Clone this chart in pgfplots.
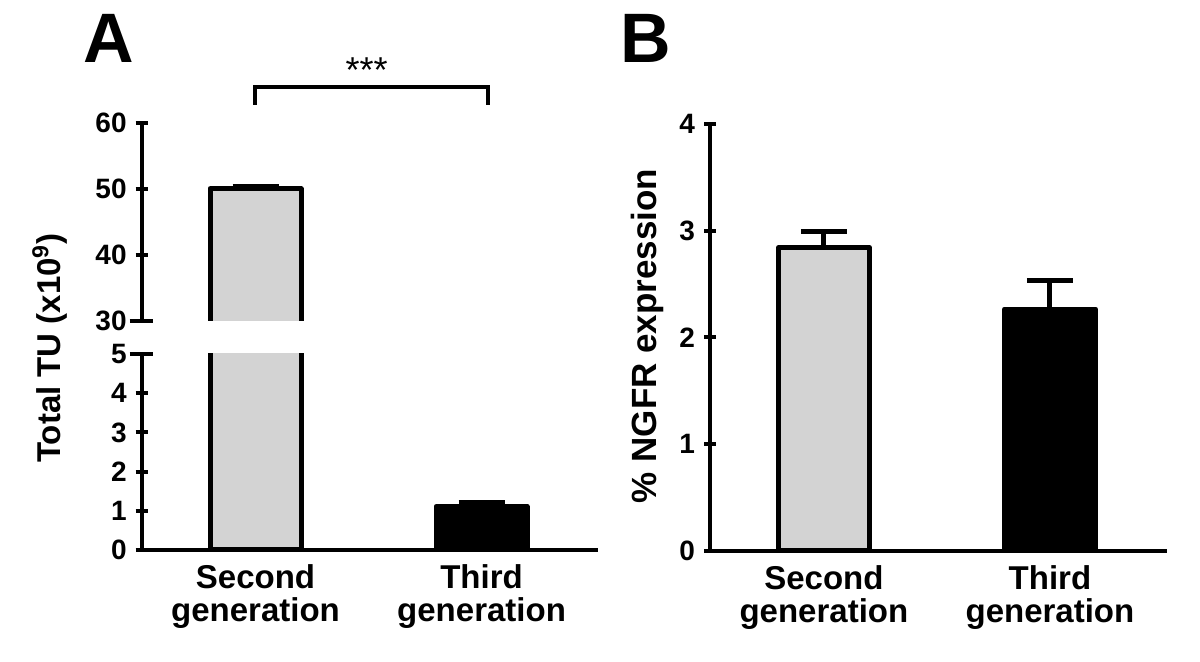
\documentclass[border=0pt]{standalone}
\usepackage{fontspec}
\setmainfont{Liberation Sans}
\usepackage{pgfplots}
\pgfplotsset{compat=1.18}
\definecolor{barGray}{RGB}{211,211,211}

\pgfplotsset{
  panel/.style={
    scale only axis,
    ybar, bar width=45.5pt, bar shift=0pt,
    xmin=-0.5035, xmax=1.5155,
    every tick/.style={line width=2pt, black},
    major tick length=6pt,
    tick align=outside,
    major x tick style={draw=none},
    yticklabel style={font=\bfseries\fontsize{14}{14}\selectfont, xshift=-1pt},
    xticklabel style={font=\bfseries\fontsize{16.5}{16.5}\selectfont, align=center, yshift=-1pt},
    /pgf/number format/assume math mode=true,
    error bars/y dir=plus, error bars/y explicit,
    error bars/error bar style={line width=2.5pt, black},
    error bars/error mark options={rotate=90, mark size=11.5pt, line width=2.5pt, black},
  },
  graybar/.style={fill=barGray, draw=black, line width=2.5pt, line join=round},
  blackbar/.style={fill=black, draw=black, line width=2.5pt, line join=round},
}

\begin{document}
\begin{tikzpicture}
\path[use as bounding box] (0,0) rectangle (600pt,331pt);

% Panel A, lower segment (0-5)
\begin{axis}[panel, at={(70.85pt,56pt)}, anchor=south west,
  width=228.2pt, height=98pt, ymin=0, ymax=5,
  axis x line=bottom, axis y line=left,
  axis line style={-, line width=2pt},
  ytick={0,1,2,3,4,5},
  xtick={0,1}, xticklabels={{Second\\generation},{Third\\generation}}]
\addplot[graybar] coordinates {(0,50)};
\addplot[blackbar] coordinates {(1,1.11) +- (0,0.10)};
\end{axis}

% Panel A, upper segment (30-60)
\begin{axis}[panel, at={(70.85pt,170.65pt)}, anchor=south west,
  width=228.2pt, height=99pt, ymin=30, ymax=60,
  axis x line=none, axis y line=left,
  axis line style={-, line width=2pt},
  ytick={30,40,50,60}, xtick=\empty]
% bar body continued from the lower segment (its base lies below the break)
\addplot[graybar, sharp plot] coordinates {(-0.2013,20) (-0.2013,50) (0.2013,50) (0.2013,20)};
\addplot[draw=none, sharp plot, mark=none] coordinates {(0,50) +- (0,0.4)};
\end{axis}

% Panel B
\begin{axis}[panel, at={(355pt,55.65pt)}, anchor=south west,
  width=228.5pt, height=213.35pt, ymin=0, ymax=4,
  xmin=-0.504, xmax=1.518,
  axis x line=bottom, axis y line=left,
  axis line style={-, line width=2pt},
  ytick={0,1,2,3,4},
  xtick={0,1}, xticklabels={{Second\\generation},{Third\\generation}}]
\addplot[graybar] coordinates {(0,2.84) +- (0,0.15)};
\addplot[blackbar] coordinates {(1,2.265) +- (0,0.27)};
\end{axis}

% axis-break caps
\draw[line width=2pt] (64.85pt,154pt) -- (76.5pt,154pt);
\draw[line width=2pt] (64.85pt,170.65pt) -- (76.5pt,170.65pt);

% y labels
\node[rotate=90, anchor=base, font=\bfseries\fontsize{16.5}{16.5}\selectfont] at (30.5pt,157pt) {Total TU (x10\textsuperscript{9})};
\node[rotate=90, anchor=base, font=\bfseries\fontsize{17.5}{17.5}\selectfont] at (328pt,163pt) {\% NGFR expression};

% panel letters
\node[font=\bfseries\fontsize{35}{35}\selectfont] at (54.5pt,312pt) {A};
\node[font=\bfseries\fontsize{35}{35}\selectfont] at (323pt,312pt) {B};

% significance bracket
\draw[line width=2pt] (127.5pt,278.5pt) -- (127.5pt,287.5pt) -- (243.85pt,287.5pt) -- (243.85pt,278.5pt);
\node[font=\fontsize{18}{18}\selectfont] at (183.3pt,296pt) {***};
\end{tikzpicture}
\end{document}
